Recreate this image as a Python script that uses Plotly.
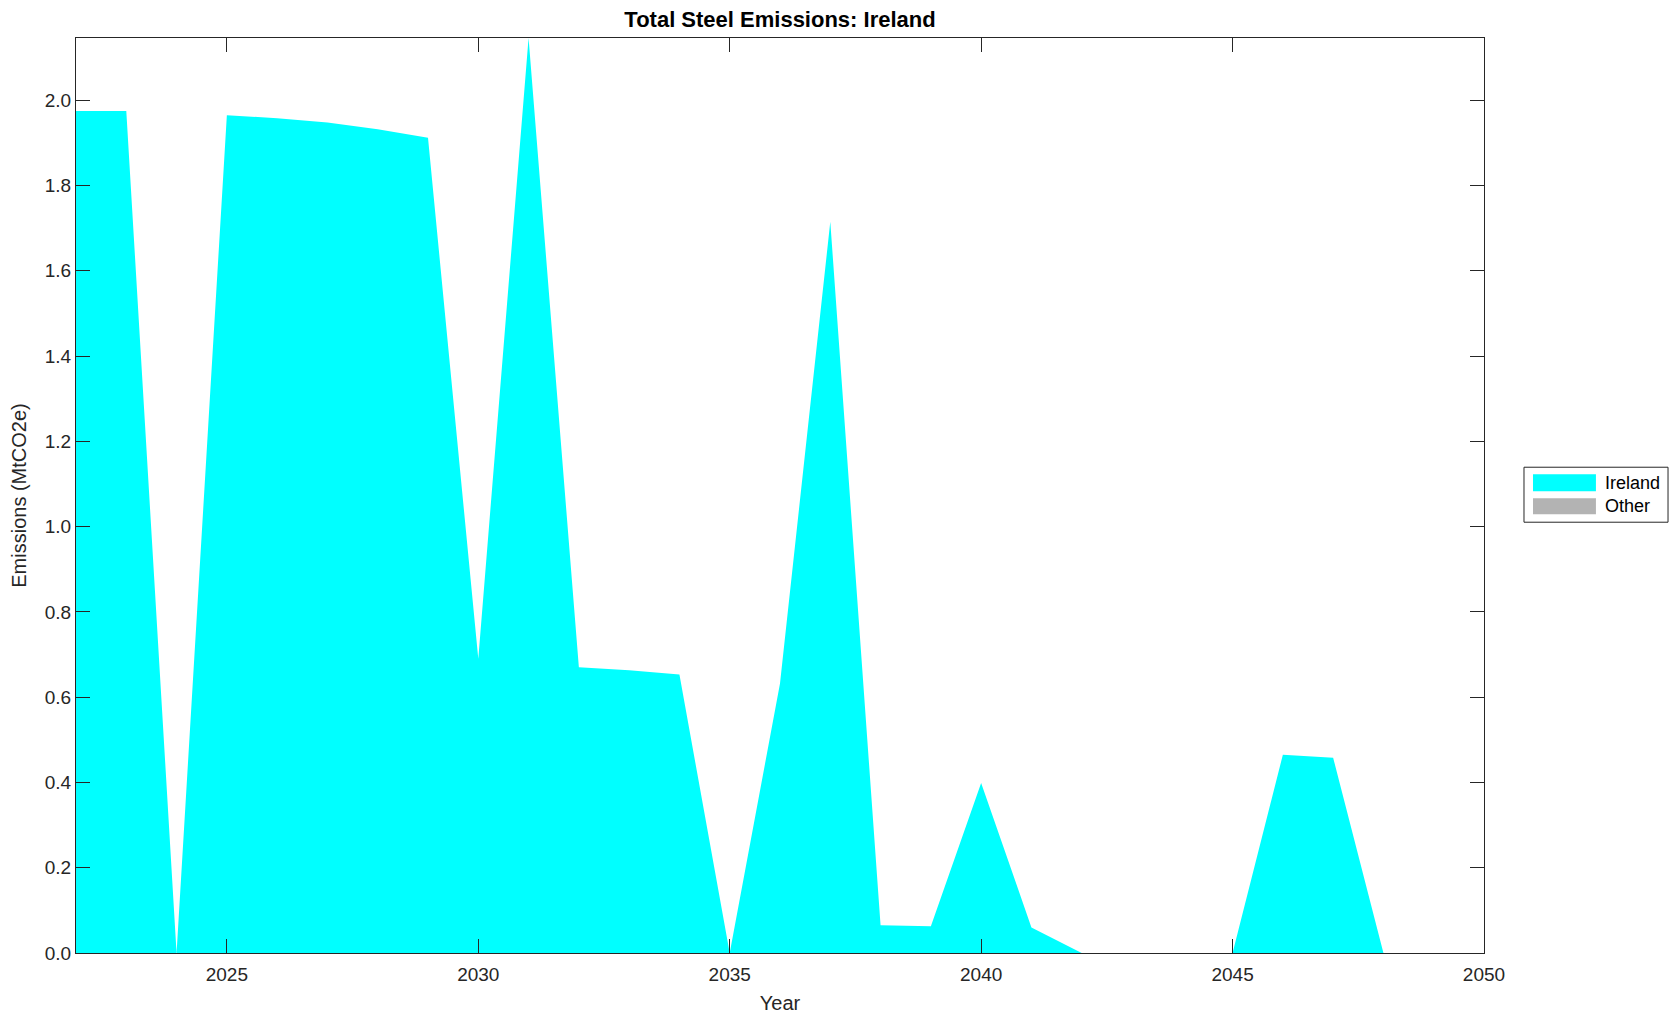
import plotly.graph_objects as go

years = list(range(2022, 2051))
ireland = [
    1.975, 1.975, 0.0, 1.965, 1.958, 1.948, 1.932, 1.912, 0.69, 2.146,
    0.67, 0.663, 0.653, 0.0, 0.632, 1.715, 0.065, 0.063, 0.399, 0.06,
    0.0, 0.0, 0.0, 0.0, 0.465, 0.458, 0.0, 0.0, 0.0,
]
other = [0.0] * len(years)
series = [("Ireland", ireland, "#00ffff"), ("Other", other, "#b3b3b3")]

AX_COLOR = "#262626"
FONT = "Liberation Sans, Arial, Helvetica, sans-serif"

# page has an 8px body margin, so the figure is a bit smaller than the window
W, H = 1671, 1013

fig = go.Figure()
for name, vals, color in series:
    fig.add_scatter(
        x=years,
        y=vals,
        name=name,
        mode="lines",
        stackgroup="one",
        line={"width": 0, "color": color},
        fillcolor=color,
        showlegend=False,
    )

# MATLAB-like legend box with wide patches
fig.add_shape(
    type="rect", xref="paper", yref="paper",
    x0=1.0284, x1=1.1307, y0=0.4708, y1=0.5309,
    line={"color": AX_COLOR, "width": 1}, fillcolor="white",
)
for (name, _, color), (y0, y1) in zip(series, [(0.5046, 0.5232), (0.4795, 0.4970)]):
    fig.add_shape(
        type="rect", xref="paper", yref="paper",
        x0=1.0348, x1=1.0795, y0=y0, y1=y1,
        line={"width": 0}, fillcolor=color,
    )
    fig.add_annotation(
        xref="paper", yref="paper", x=1.0845, y=(y0 + y1) / 2,
        text=name, showarrow=False, xanchor="left", yanchor="middle",
        font={"size": 18, "color": "black"},
    )

axis_style = dict(
    showline=True,
    linecolor=AX_COLOR,
    linewidth=1,
    mirror="allticks",
    ticks="inside",
    ticklen=14,
    tickcolor=AX_COLOR,
    showgrid=False,
    zeroline=False,
    automargin=False,
    tickfont={"size": 19, "color": AX_COLOR},
)

fig.update_layout(
    width=W,
    height=H,
    margin={"l": 68, "r": 195, "t": 30, "b": 68},
    plot_bgcolor="white",
    paper_bgcolor="white",
    font={"family": FONT, "color": AX_COLOR},
    title={
        "text": "<b>Total Steel Emissions: Ireland</b>",
        "x": 772 / W,
        "xanchor": "center",
        "y": 1 - 11 / H,
        "yanchor": "middle",
        "font": {"size": 22, "color": "black"},
    },
)
fig.update_xaxes(
    range=[2022, 2050],
    tickvals=[2025, 2030, 2035, 2040, 2045, 2050],
    ticklabelstandoff=4,
    title={"text": "Year", "font": {"size": 20}, "standoff": 12},
    **axis_style,
)
fig.update_yaxes(
    range=[0, 2.146],
    tickvals=[0, 0.2, 0.4, 0.6, 0.8, 1.0, 1.2, 1.4, 1.6, 1.8, 2.0],
    tickformat=".1f",
    title={"text": "Emissions (MtCO2e)", "font": {"size": 20}, "standoff": 12},
    **axis_style,
)

fig.write_html("out.html")
